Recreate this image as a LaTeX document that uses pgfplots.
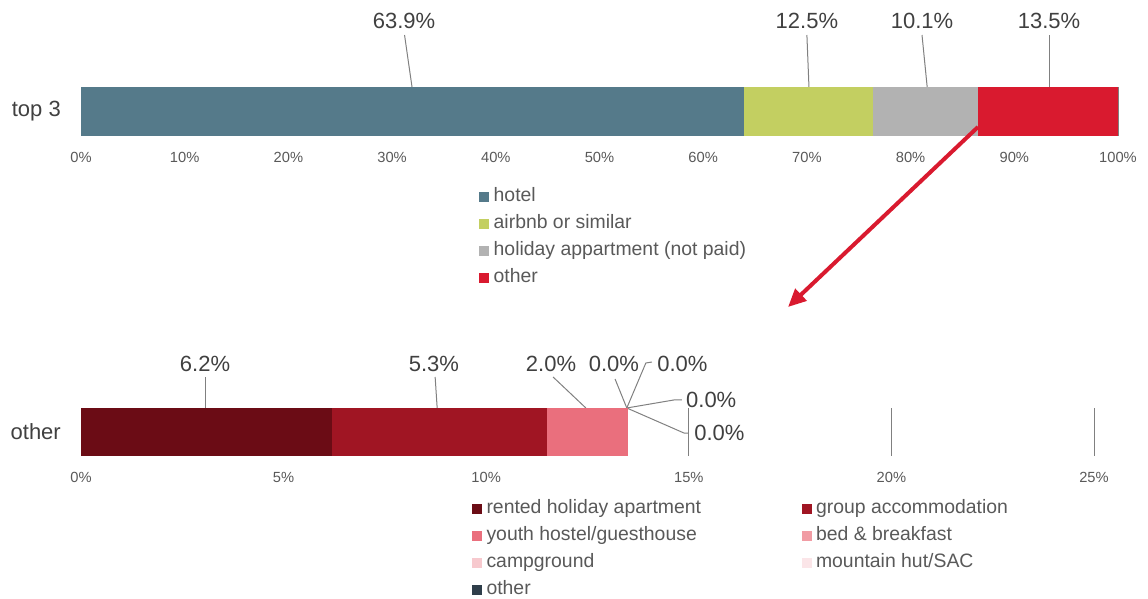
\documentclass[border=0pt]{standalone}
\usepackage{fontspec}
\setmainfont{Liberation Sans}
\usepackage{pgfplots}
\pgfplotsset{compat=1.18}
\usetikzlibrary{arrows.meta}
\definecolor{cHotel}{HTML}{557A8A}
\definecolor{cAirbnb}{HTML}{C3CF61}
\definecolor{cHoliday}{HTML}{B2B2B2}
\definecolor{cOther}{HTML}{D91A2F}
\definecolor{cRented}{HTML}{6B0C15}
\definecolor{cGroup}{HTML}{A01523}
\definecolor{cYouth}{HTML}{EA6F7D}
\definecolor{cBnB}{HTML}{F19CA4}
\definecolor{cCamp}{HTML}{F7C9CE}
\definecolor{cHut}{HTML}{FBE5E8}
\definecolor{cOtherB}{HTML}{2F3E4A}
\definecolor{labelgray}{HTML}{404040}
\definecolor{tickgray}{HTML}{595959}
\definecolor{leadergray}{HTML}{808080}
\tikzset{
  lab/.style={font=\fontsize{22}{26}\selectfont, text=labelgray, inner sep=0pt},
  lead/.style={draw=leadergray, line width=1pt},
}
\pgfplotsset{
  mybar/.style={
    xbar stacked, scale only axis, clip=false,
    ymin=-0.5, ymax=0.5, ytick={0},
    axis line style={draw=none}, major tick length=0pt, tick style={draw=none},
    xmajorgrids, grid style={color=leadergray, line width=0.9pt},
    yticklabel style={font=\fontsize{22}{26}\selectfont, text=labelgray, inner sep=0pt, xshift=-20pt},
    xticklabel style={font=\fontsize{14.7}{17}\selectfont, text=tickgray, inner sep=0pt, yshift=-16.5pt},
    legend style={draw=none, fill=none, inner sep=0pt, outer sep=0pt,
       font=\fontsize{19.4}{23}\selectfont, text=tickgray,
       nodes={inner sep=0pt, text height=14pt, text depth=4pt},
       row sep=9pt, /tikz/every odd column/.append style={column sep=4.5pt}},
    legend cell align=left,
    legend image code/.code={\fill[##1] (0pt,-5pt) rectangle (10pt,5pt);},
    every axis plot/.append style={draw=none},
  },
}
\begin{document}
\begin{tikzpicture}[x=1pt,y=1pt]
\useasboundingbox (0,0) rectangle (1148,599);
\begin{axis}[mybar, at={(81pt,463pt)}, anchor=south west,
  width=1037pt, height=49pt, bar width=49pt,
  xmin=0, xmax=100, xtick={0,10,...,100},
  xticklabels={0\%,10\%,20\%,30\%,40\%,50\%,60\%,70\%,80\%,90\%,100\%},
  yticklabels={top 3},
  legend style={at={(0.384,-1.061)}, anchor=north west},
]
\addplot[fill=cHotel] coordinates {(63.9,0)};
\addplot[fill=cAirbnb] coordinates {(12.5,0)};
\addplot[fill=cHoliday] coordinates {(10.1,0)};
\addplot[fill=cOther] coordinates {(13.5,0)};
\legend{hotel, airbnb or similar, holiday appartment (not paid), other}
\draw[lead] (axis cs:31.2,1.561) -- (axis cs:31.92,0.5);
\draw[lead] (axis cs:70.0,1.561) -- (axis cs:70.2,0.5);
\draw[lead] (axis cs:81.1,1.561) -- (axis cs:81.6,0.5);
\draw[lead] (axis cs:93.35,1.561) -- (axis cs:93.35,0.5);
\node[lab] at (axis cs:31.15,1.847) {63.9\%};
\node[lab] at (axis cs:70.0,1.847) {12.5\%};
\node[lab] at (axis cs:81.1,1.847) {10.1\%};
\node[lab] at (axis cs:93.35,1.847) {13.5\%};
\coordinate (A1) at (axis cs:86.5,-0.316);
\coordinate (A2) at (axis cs:68.18,-3.99);
\end{axis}
\draw[line width=4pt, draw=cOther, -{Triangle[length=18pt,width=16pt]}] (A1) -- (A2);
\begin{axis}[mybar, at={(81pt,143pt)}, anchor=south west,
  width=1013pt, height=48pt, bar width=48pt,
  xmin=0, xmax=25, xtick={0,5,...,25},
  xticklabels={0\%,5\%,10\%,15\%,20\%,25\%},
  yticklabels={other},
  legend columns=2,
  legend style={at={(0.386,-0.916)}, anchor=north west,
    /tikz/every even column/.append style={column sep=100.4pt}},
]
\addplot[fill=cRented] coordinates {(6.2,0)};
\addplot[fill=cGroup] coordinates {(5.3,0)};
\addplot[fill=cYouth] coordinates {(2.0,0)};
\addplot[fill=cBnB] coordinates {(0,0)};
\addplot[fill=cCamp] coordinates {(0,0)};
\addplot[fill=cHut] coordinates {(0,0)};
\addplot[fill=cOtherB] coordinates {(0,0)};
\legend{rented holiday apartment, group accommodation, youth hostel/guesthouse, bed \& breakfast, campground, mountain hut/SAC, other}
\draw[lead] (axis cs:3.08,1.146) -- (axis cs:3.08,0.5);
\draw[lead] (axis cs:8.74,1.146) -- (axis cs:8.79,0.5);
\draw[lead] (axis cs:11.65,1.146) -- (axis cs:12.46,0.5);
\draw[lead] (axis cs:13.18,1.104) -- (axis cs:13.47,0.5);
\draw[lead] (axis cs:13.47,0.5) -- (axis cs:13.94,1.4375) -- (axis cs:14.09,1.458);
\draw[lead] (axis cs:13.47,0.5) -- (axis cs:14.63,0.667) -- (axis cs:14.83,0.667);
\draw[lead] (axis cs:13.47,0.5) -- (axis cs:14.88,-0.021) -- (axis cs:15.0,-0.021);
\node[lab] at (axis cs:3.06,1.42) {6.2\%};
\node[lab] at (axis cs:8.71,1.42) {5.3\%};
\node[lab] at (axis cs:11.6,1.42) {2.0\%};
\node[lab] at (axis cs:13.15,1.42) {0.0\%};
\node[lab, anchor=west] at (axis cs:14.22,1.42) {0.0\%};
\node[lab, anchor=west] at (axis cs:14.93,0.667) {0.0\%};
\node[lab, anchor=west] at (axis cs:15.13,-0.021) {0.0\%};
\end{axis}
\end{tikzpicture}
\end{document}
